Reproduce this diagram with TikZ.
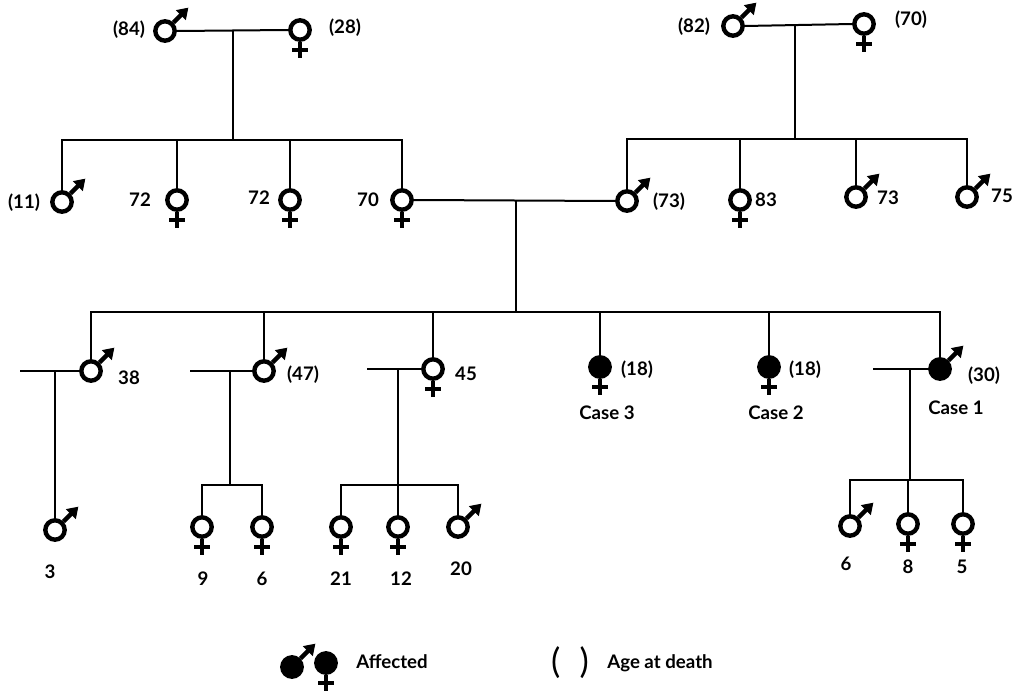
\documentclass[tikz,border=0pt]{standalone}
\usepackage{fontspec}
\setmainfont{Lato}
\usetikzlibrary{arrows.meta}
\tikzset{
  ind/.style={circle, draw, line width=3.3pt, minimum size=14.5pt, inner sep=0pt},
  male/.style={ind, append after command={\pgfextra{\let\mynd=\tikzlastnode
      \draw[line width=3.2pt, -{Triangle[length=8pt,width=10pt]}] (\mynd.45) -- ++(15,-15);}}},
  female/.style={ind, append after command={\pgfextra{\let\mynd=\tikzlastnode
      \draw[line width=3.3pt] (\mynd.south) -- ++(0,16) (\mynd.south) ++(-8,8) -- ++(16,0);}}},
  aff/.style={fill=black},
  lbl/.style={font=\bfseries\fontsize{14}{16}\selectfont, inner sep=0pt},
  link/.style={line width=1.5pt},
}
\begin{document}
\begin{tikzpicture}[x=0.75pt, y=-0.75pt]
\useasboundingbox[fill=white] (0,0) rectangle (1018,692);

% ---------- Generation I ----------
\node[male]   (m1) at (165,31) {};
\node[female] (f1) at (300,30) {};
\node[lbl] (l84) at (129,30) {(84)};
\node[lbl] (l28) at (345,28) {(28)};

\node[male]   (m2) at (733,26) {};
\node[female] (f2) at (864,24) {};
\node[lbl] (l82) at (694,27) {(82)};
\node[lbl] (l70a) at (911,20) {(70)};

% ---------- Generation II ----------
\node[male]   (a1) at (62,202) {};
\node[female] (a2) at (177,200) {};
\node[female] (a3) at (290,200) {};
\node[female] (a4) at (402,200) {};
\node[lbl] (l11) at (24,203) {(11)};
\node[lbl] (l72a) at (140,200) {72};
\node[lbl] (l72b) at (259,198) {72};
\node[lbl] (l70b) at (368,200) {70};

\node[male]   (b1) at (627,201) {};
\node[female] (b2) at (740,200) {};
\node[male]   (b3) at (856,197) {};
\node[male]   (b4) at (967,197) {};
\node[lbl] (l73a) at (669,202) {(73)};
\node[lbl] (l83) at (766,200) {83};
\node[lbl] (l73b) at (888,198) {73};
\node[lbl] (l75) at (1002,196) {75};

% ---------- Generation III ----------
\node[male]        (c1) at (91,371) {};
\node[male]        (c2) at (264,371) {};
\node[female]      (c3) at (433,369) {};
\node[female,aff]  (c4) at (600,367) {};
\node[female,aff]  (c5) at (769,367) {};
\node[male,aff]    (c6) at (940,369) {};
\node[lbl] (l38) at (129,378) {38};
\node[lbl] (l47) at (303,375) {(47)};
\node[lbl] (l45) at (466,374) {45};
\node[lbl] (l18a) at (637,370) {(18)};
\node[lbl] (l18b) at (805,370) {(18)};
\node[lbl] (l30) at (984,376) {(30)};
\node[lbl] (cs3) at (607,413) {Case 3};
\node[lbl] (cs2) at (776,413) {Case 2};
\node[lbl] (cs1) at (956,408) {Case 1};

% ---------- Generation IV ----------
\node[male]   (d1) at (55,530) {};
\node[female] (e1) at (202,527) {};
\node[female] (e2) at (262,527) {};
\node[female] (g1) at (341,527) {};
\node[female] (g2) at (398,527) {};
\node[male]   (g3) at (458,527) {};
\node[male]   (h1) at (850,526) {};
\node[female] (h2) at (908,524) {};
\node[female] (h3) at (963,524) {};
\node[lbl] (l3) at (50,572) {3};
\node[lbl] (l9) at (203,579) {9};
\node[lbl] (l6a) at (262,579) {6};
\node[lbl] (l21) at (341,579) {21};
\node[lbl] (l12) at (401,579) {12};
\node[lbl] (l20) at (461,569) {20};
\node[lbl] (l6b) at (846,564) {6};
\node[lbl] (l8) at (908,567) {8};
\node[lbl] (l5) at (962,567) {5};

% ---------- connectors ----------
% family 1
\coordinate (j1) at (233,30);
\coordinate (t1) at (233,140);
\draw[link] (m1.east) -- (f1.west);
\draw[link] (j1) -- (t1);
\draw[link] (a1.north) |- (t1) -| (a4.north);
\draw[link] (a2.north) -- (a2.north |- t1);
\draw[link] (a3.north) -- (a3.north |- t1);
% family 2
\coordinate (j2) at (795,25);
\coordinate (t2) at (795,139);
\draw[link] (m2.east) -- (f2.west);
\draw[link] (j2) -- (t2);
\draw[link] (b1.north) |- (t2) -| (b4.north);
\draw[link] (b2.north) -- (b2.north |- t2);
\draw[link] (b3.north) -- (b3.north |- t2);
% family 3
\coordinate (j3) at (516,200);
\coordinate (t3) at (516,312);
\draw[link] (a4.east) -- (b1.west);
\draw[link] (j3) -- (t3);
\draw[link] (c1.north) |- (t3) -| (c6.north);
\draw[link] (c2.north) -- (c2.north |- t3);
\draw[link] (c3.north) -- (c3.north |- t3);
\draw[link] (c4.north) -- (c4.north |- t3);
\draw[link] (c5.north) -- (c5.north |- t3);
% family of 38
\coordinate (s1) at (20,371);
\coordinate (j4) at (55,371);
\draw[link] (s1) -- (c1.west);
\draw[link] (j4) -- (d1.north);
% family of (47)
\coordinate (s2) at (190,371);
\coordinate (j5) at (230,371);
\coordinate (t5) at (230,485);
\draw[link] (s2) -- (c2.west);
\draw[link] (j5) -- (t5);
\draw[link] (e1.north) |- (t5) -| (e2.north);
% family of 45
\coordinate (s3) at (367,369);
\coordinate (j6) at (398,369);
\coordinate (t6) at (398,485);
\draw[link] (s3) -- (c3.west);
\draw[link] (j6) -- (g2.north);
\draw[link] (g1.north) |- (t6) -| (g3.north);
% family of Case 1
\coordinate (s4) at (873,369);
\coordinate (j7) at (910,369);
\coordinate (t7) at (910,480);
\draw[link] (s4) -- (c6.west);
\draw[link] (j7) -- (t7);
\draw[link] (h1.north) |- (t7) -| (h3.north);
\draw[link] (h2.north) -- (h2.north |- t7);

% ---------- legend ----------
\node[male,aff]   (lm) at (292,667) {};
\node[female,aff] (lf) at (326,663) {};
\node[lbl] (laff) at (392,662) {Affected};
\node[font=\fontsize{26}{28}\selectfont, inner sep=0pt] (lpar) at (570,663) {(\hspace{0.55em})};
\node[lbl] (lage) at (660,663) {Age at death};
\end{tikzpicture}
\end{document}
